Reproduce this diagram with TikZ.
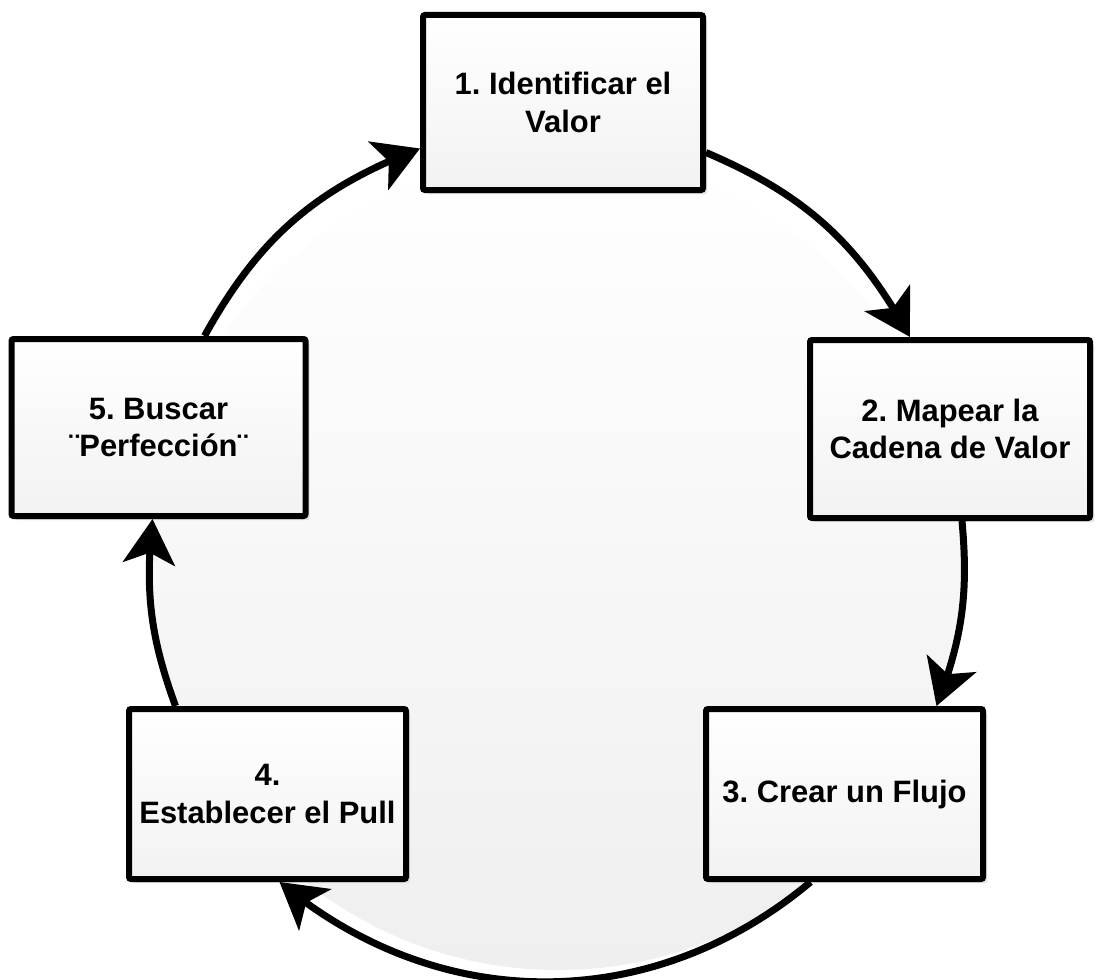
\documentclass[tikz,border=0pt]{standalone}
\usepackage{fontspec}
\setmainfont{Liberation Sans}
\usetikzlibrary{arrows.meta, bending, shadows}
\newdimen\unitpx
\unitpx=0.025cm
\definecolor{boxGrey}{RGB}{242, 242, 242}
\definecolor{ringGrey}{RGB}{239, 239, 239}
\frenchspacing

\begin{document}
\begin{tikzpicture} [
        x=0.025cm, y=-0.025cm,
        phase/.style={draw, line width=6\unitpx, rounded corners=2\unitpx,
            top color=white, bottom color=boxGrey, align=center, inner sep=0pt,
            font=\fontsize{22}{26.4}\selectfont\bfseries,
            drop shadow={shadow xshift=4\unitpx, shadow yshift=-4\unitpx, fill=black!12, opacity=1}},
        cyc/.style={line width=7\unitpx, -{Stealth[length=32pt, width=37pt, inset=8pt]}}
    ]
        \useasboundingbox (0, 0) rectangle (1096, 979);

        % the ring behind the steps
        \shade [top color=white, bottom color=ringGrey] (558, 564) circle [radius=406\unitpx];

        % STEPS
        \node [phase, minimum width=280\unitpx, minimum height=175\unitpx] (p1) at (563, 102.5) {1. Identificar el\\Valor};
        \node [phase, minimum width=280\unitpx, minimum height=178\unitpx] (p2) at (950, 429) {2. Mapear la\\Cadena de Valor};
        \node [phase, minimum width=277\unitpx, minimum height=170\unitpx] (p3) at (844.5, 794) {3. Crear un Flujo};
        \node [phase, minimum width=277\unitpx, minimum height=170\unitpx] (p4) at (267.5, 794) {4.\\Establecer el Pull};
        \node [phase, minimum width=294\unitpx, minimum height=177\unitpx] (p5) at (158.5, 427.5) {5. Buscar\\¨Perfección¨};

        % CYCLE
        \draw [cyc] ([yshift=-50\unitpx]p1.east) to [bend left=19] ([xshift=-40\unitpx]p2.north);
        \draw [cyc] ([xshift=12\unitpx]p2.south) to [bend left=13] ([xshift=92\unitpx]p3.north);
        \draw [cyc] ([xshift=-34\unitpx]p3.south) to [bend left=40] ([xshift=12\unitpx]p4.south);
        \draw [cyc] ([xshift=-92\unitpx]p4.north) to [bend left=13] ([xshift=-6\unitpx]p5.south);
        \draw [cyc] ([xshift=46\unitpx]p5.north) to [bend left=20] ([yshift=-46\unitpx]p1.west);

    \end{tikzpicture}
\end{document}
